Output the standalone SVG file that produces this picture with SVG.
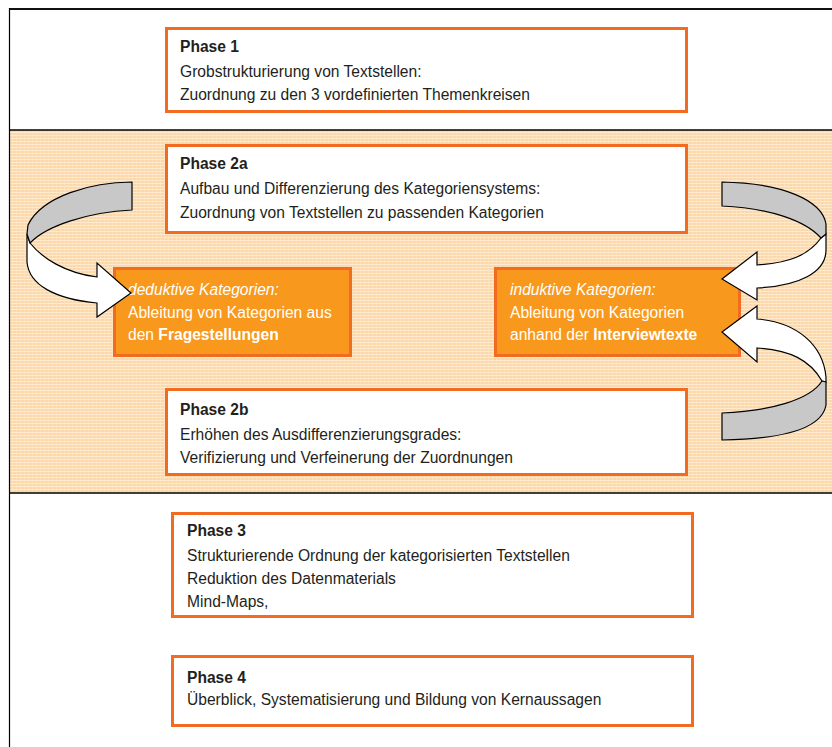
<svg xmlns="http://www.w3.org/2000/svg" width="832" height="747" viewBox="0 0 832 747">
<defs>
<style>
.box{fill:#ffffff;stroke:#f26b21;stroke-width:3}
.obox{fill:#f8981d;stroke:#f26b21;stroke-width:3}
.t{font-family:"Liberation Sans",Arial,sans-serif;font-size:15.6px;fill:#231f20}
.w{font-family:"Liberation Sans",Arial,sans-serif;font-size:15.6px;fill:#ffffff}
.b{font-weight:bold}
.i{font-style:italic}
.back{fill:#c8c8c8;stroke:#000;stroke-width:1.2;stroke-linejoin:round}
.front{fill:#ffffff;stroke:#000;stroke-width:1.2;stroke-linejoin:miter}
</style>
<pattern id="grid" width="4" height="3" patternUnits="userSpaceOnUse">
<rect width="4" height="3" fill="#fcd8a9"/>
<rect y="0" width="4" height="1" fill="#feebd3"/>
<rect x="0" width="1" height="3" fill="#fee3c0" opacity="0.8"/>
</pattern>
</defs>

<g id="frame">
<rect x="0" y="0" width="832" height="747" fill="#ffffff"/>
<rect x="10" y="130" width="830" height="363" fill="url(#grid)"/>
<line x1="10" y1="130" x2="832" y2="130" stroke="#000" stroke-width="1.5"/>
<line x1="10" y1="493" x2="832" y2="493" stroke="#000" stroke-width="1.5"/>
<line x1="9" y1="9" x2="832" y2="9" stroke="#111" stroke-width="2"/>
<line x1="9.5" y1="8" x2="9.5" y2="747" stroke="#000" stroke-width="1.2"/>
</g>

<g id="phase1">
<rect class="box" x="166.5" y="28.5" width="520" height="83"/>
<text class="t b" x="180" y="52">Phase 1</text>
<text class="t" x="180" y="76.5">Grobstrukturierung von Textstellen:</text>
<text class="t" x="180" y="99.5">Zuordnung zu den 3 vordefinierten Themenkreisen</text>
</g>

<g id="phase2a">
<rect class="box" x="166.5" y="145.5" width="520" height="87"/>
<text class="t b" x="180" y="168.5">Phase 2a</text>
<text class="t" x="180" y="194">Aufbau und Differenzierung des Kategoriensystems:</text>
<text class="t" x="180" y="217.5">Zuordnung von Textstellen zu passenden Kategorien</text>
</g>

<g id="deduktiv">
<rect class="obox" x="114.5" y="268.5" width="236" height="87"/>
<text class="w i" x="128" y="295">deduktive Kategorien:</text>
<text class="w" x="128" y="317.5">Ableitung von Kategorien aus</text>
<text class="w" x="128" y="340">den <tspan class="b">Fragestellungen</tspan></text>
</g>

<g id="induktiv">
<rect class="obox" x="495.5" y="268.5" width="244" height="87"/>
<text class="w i" x="510" y="295">induktive Kategorien:</text>
<text class="w" x="510" y="317.5">Ableitung von Kategorien</text>
<text class="w" x="510" y="340">anhand der <tspan class="b">Interviewtexte</tspan></text>
</g>

<g id="phase2b">
<rect class="box" x="166.5" y="389.5" width="520" height="85"/>
<text class="t b" x="180" y="415">Phase 2b</text>
<text class="t" x="180" y="439.5">Erhöhen des Ausdifferenzierungsgrades:</text>
<text class="t" x="180" y="462.5">Verifizierung und Verfeinerung der Zuordnungen</text>
</g>

<g id="phase3">
<rect class="box" x="172.5" y="513.5" width="520" height="103"/>
<text class="t b" x="187" y="536">Phase 3</text>
<text class="t" x="187" y="561">Strukturierende Ordnung der kategorisierten Textstellen</text>
<text class="t" x="187" y="584">Reduktion des Datenmaterials</text>
<text class="t" x="187" y="606.5">Mind-Maps,</text>
</g>

<g id="phase4">
<rect class="box" x="172.5" y="656.5" width="520" height="69"/>
<text class="t b" x="187" y="682.5">Phase 4</text>
<text class="t" x="187" y="704.5">Überblick, Systematisierung und Bildung von Kernaussagen</text>
</g>

<g id="connectors">
<g id="arrow-left">
<path class="front" d="M30,243 C42,258 65,273 97,277 L97,263 L131,293 L97,317 L97,303 C55,299 29,285 27,262 L27,234 Z"/>
<path class="back" d="M132,182 C92,182 42,196 28,225 L27,234 L30,243 C46,226 88,212 132,210 Z"/>
</g>
<g id="arrow-right-top">
<path class="front" d="M821,238 C808,256 788,263 757,265 L757,252 L722,279 L757,300 L757,288 C800,286 826,272 826,250 L826,234 Z"/>
<path class="back" d="M722,182 C782,183 822,200 826,224 L826,234 L821,238 C806,221 770,208 722,206 Z"/>
</g>
<g id="arrow-right-bottom">
<path class="front" d="M757,319 C797,322 823,345 826,377 L826,382 L822,381 C810,360 790,350 757,348 L757,362 L722,332 L757,306 Z"/>
<path class="back" d="M822,381 L826,382 L826,405 C822,428 785,439 722,440 L722,413 C770,411 810,400 822,381 Z"/>
</g>
</g>
</svg>
